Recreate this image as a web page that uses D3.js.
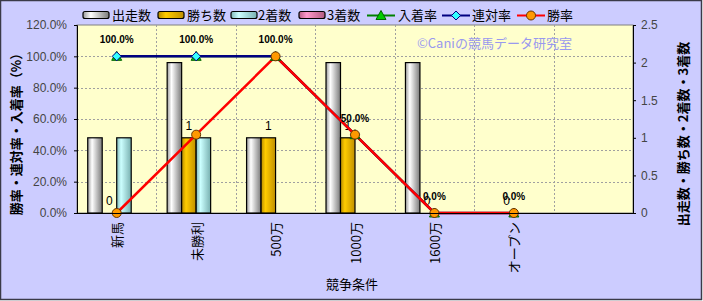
<!DOCTYPE html>
<html><head><meta charset="utf-8">
<script src="https://cdn.jsdelivr.net/npm/d3@7"></script>
<style>
html,body{margin:0;padding:0;background:#fff;}
svg{display:block;}
text{font-family:"Liberation Sans","Noto Sans CJK JP",sans-serif;}
.jp{font-family:"Noto Sans CJK JP","Liberation Sans",sans-serif;}
</style></head>
<body>
<svg id="c" width="703" height="301"></svg>
<script>
const categories = ["新馬","未勝利","500万","1000万","1600万","オープン",""];
const starts   = [1,2,1,2,2,0,null];
const wins     = [0,1,1,1,0,0,null];
const seconds  = [1,1,0,0,0,0,null];
const thirds   = [0,0,0,0,0,0,null];
const placeRate  = [100,100,100,50,0,0,null];
const rentaiRate = [100,100,100,50,0,0,null];
const winRate    = [0,50,100,50,0,0,null];
const leftTicks = [0,20,40,60,80,100,120];
const rightTicks = [0,0.5,1,1.5,2,2.5];
const barSeries = [
  {name:"出走数", values:starts, grad:"gW"},
  {name:"勝ち数", values:wins, grad:"gY"},
  {name:"2着数", values:seconds, grad:"gC"},
  {name:"3着数", values:thirds, grad:"gP"}
];
const lineSeries = [
  {name:"入着率", values:placeRate, color:"#008000", w:2, marker:"tri"},
  {name:"連対率", values:rentaiRate, color:"#000080", w:2.5, marker:"dia"},
  {name:"勝率", values:winRate, color:"#ff0000", w:2.5, marker:"cir"}
];

const svg = d3.select("#c");
const L=77, R=633, T=25, B=213;

const defs = svg.append("defs");
function grad(id, edgeL, mid, edgeR){
  const g = defs.append("linearGradient").attr("id",id).attr("x1","0").attr("x2","1").attr("y1","0").attr("y2","0");
  g.append("stop").attr("offset","0").attr("stop-color",edgeL);
  g.append("stop").attr("offset","0.3").attr("stop-color",mid);
  g.append("stop").attr("offset","1").attr("stop-color",edgeR);
}
grad("gW","#9a9a9a","#ffffff","#7a7a7a");
grad("gY","#b58a00","#ffcc00","#c08f00");
grad("gC","#80b8b8","#ccffff","#78b0b0");
grad("gP","#b86088","#ff99cc","#b05a80");

svg.append("rect").attr("x",0.5).attr("y",0.5).attr("width",701).attr("height",299)
  .attr("fill","#ccccff").attr("stroke","#3a3a48").attr("stroke-width",1.5);
svg.append("rect").attr("x",L).attr("y",T).attr("width",R-L).attr("height",B-T)
  .attr("fill","#ffffcc").attr("stroke","#808080").attr("stroke-width",1);

const x0 = d3.scaleBand().domain(categories.map((d,i)=>i)).range([L,R]).padding(0);
const bw = x0.bandwidth();
const x1 = d3.scaleBand().domain(barSeries.map(d=>d.name)).range([bw*0.135, bw*0.865]).padding(0);
const yL = d3.scaleLinear().domain([0,120]).range([B,T]);
const yR = d3.scaleLinear().domain([0,2.5]).range([B,T]);

const grid = svg.append("g");
leftTicks.filter(t=>t>0 && t<120).forEach(t=>{
  grid.append("line").attr("x1",L).attr("x2",R).attr("y1",Math.round(yL(t))+0.5).attr("y2",Math.round(yL(t))+0.5)
    .attr("stroke","#a0a0a0").attr("stroke-dasharray","2,2").attr("stroke-width",1);
});
categories.forEach((c,i)=>{
  if(i===0) return;
  const xx = Math.round(x0(i))+0.5;
  grid.append("line").attr("x1",xx).attr("x2",xx).attr("y1",T).attr("y2",B)
    .attr("stroke","#a0a0a0").attr("stroke-dasharray","2,2").attr("stroke-width",1);
});

svg.append("text").attr("class","jp").attr("x",417).attr("y",48).attr("font-size",13)
  .attr("fill","#9999ee").text("©Caniの競馬データ研究室");

const bars = svg.append("g");
barSeries.forEach(s=>{
  s.values.forEach((v,i)=>{
    if(v==null || v===0) return;
    const xx = x0(i)+x1(s.name);
    bars.append("rect").attr("x",xx).attr("y",yR(v)).attr("width",x1.bandwidth()).attr("height",B-yR(v))
      .attr("fill",`url(#${s.grad})`).attr("stroke","#000").attr("stroke-width",1.2);
  });
});
wins.forEach((v,i)=>{
  if(v==null) return;
  svg.append("text").attr("x",x0(i)+x1("勝ち数")+x1.bandwidth()/2).attr("y",yR(v)-8)
    .attr("text-anchor","middle").attr("font-size",12).attr("fill","#000").text(v);
});

const cx = i => x0(i)+bw/2;
lineSeries.forEach(s=>{
  const line = d3.line().defined(d=>d!=null).x((d,i)=>cx(i)).y(d=>yL(d));
  svg.append("path").datum(s.values).attr("d",line).attr("fill","none")
    .attr("stroke",s.color).attr("stroke-width",s.w);
});
function marker(g, type, x, y){
  if(type==="tri"){
    g.append("path").attr("d",`M${x},${y-5}L${x+5},${y+4}L${x-5},${y+4}Z`).attr("fill","#00cc00").attr("stroke","#006600").attr("stroke-width",1);
  } else if(type==="dia"){
    g.append("path").attr("d",`M${x},${y-4.5}L${x+4.5},${y}L${x},${y+4.5}L${x-4.5},${y}Z`).attr("fill","#33ffff").attr("stroke","#000080").attr("stroke-width",1);
  } else {
    g.append("circle").attr("cx",x).attr("cy",y).attr("r",4.5).attr("fill","#ff9900").attr("stroke","#663300").attr("stroke-width",1);
  }
}
const mk = svg.append("g");
lineSeries.forEach(s=>{
  s.values.forEach((v,i)=>{ if(v!=null) marker(mk, s.marker, cx(i), yL(v)); });
});
placeRate.forEach((v,i)=>{
  if(v==null) return;
  svg.append("text").attr("x",cx(i)).attr("y",yL(v)-13).attr("text-anchor","middle")
    .attr("font-size",10).attr("font-weight","bold").attr("fill","#000").text(v.toFixed(1)+"%");
});

const axL = svg.append("g").attr("transform",`translate(${L},0)`)
  .call(d3.axisLeft(yL).tickValues(leftTicks).tickSize(3).tickFormat(d=>d.toFixed(1)+"%"));
const axR = svg.append("g").attr("transform",`translate(${R},0)`)
  .call(d3.axisRight(yR).tickValues(rightTicks).tickSize(3).tickFormat(d=>String(d)));
[axL,axR].forEach(a=>{
  a.select(".domain").attr("stroke","#000");
  a.selectAll(".tick line").attr("stroke","#000");
  a.selectAll("text").attr("font-size",12).attr("fill","#444").attr("font-family","Liberation Sans, sans-serif");
});
axL.selectAll("text").attr("x",-10);
axR.selectAll("text").attr("x",8);
svg.append("line").attr("x1",L).attr("x2",R).attr("y1",B+0.5).attr("y2",B+0.5).attr("stroke","#000");

categories.forEach((c,i)=>{
  if(!c) return;
  svg.append("text").attr("class","jp").attr("transform",`translate(${cx(i)},222) rotate(-90)`)
    .attr("text-anchor","end").attr("dominant-baseline","central").attr("font-size",13).attr("fill","#000").text(c);
});

svg.append("text").attr("class","jp").attr("transform","translate(15,131) rotate(-90)")
  .attr("text-anchor","middle").attr("dominant-baseline","central").attr("font-size",13).attr("font-weight","bold").attr("fill","#000").text("勝率・連対率・入着率（%）");
svg.append("text").attr("class","jp").attr("transform","translate(682,134) rotate(-90)")
  .attr("text-anchor","middle").attr("dominant-baseline","central").attr("font-size",13).attr("font-weight","bold").attr("fill","#000").text("出走数・勝ち数・2着数・3着数");
svg.append("text").attr("class","jp").attr("x",352).attr("y",289).attr("text-anchor","middle")
  .attr("font-size",13).attr("fill","#000").text("競争条件");

const lg = svg.append("g");
const barLeg = [[83,112],[158,187],[231,258],[299,327]];
barSeries.forEach((s,k)=>{
  const [sx,tx]=barLeg[k];
  lg.append("rect").attr("x",sx).attr("y",11.5).attr("width",26).attr("height",7).attr("rx",2)
    .attr("fill",`url(#${s.grad})`).attr("stroke","#000").attr("stroke-width",1.2);
  lg.append("text").attr("class","jp").attr("x",tx).attr("y",20).attr("font-size",13).attr("fill","#000").text(s.name);
});
const lineLeg = [[367,398],[442,472],[517,547]];
lineSeries.forEach((s,k)=>{
  const [sx,tx]=lineLeg[k];
  lg.append("line").attr("x1",sx).attr("x2",sx+28).attr("y1",15.5).attr("y2",15.5).attr("stroke",s.color).attr("stroke-width",2);
  marker(lg, s.marker, sx+14, 15.5);
  lg.append("text").attr("class","jp").attr("x",tx).attr("y",20).attr("font-size",13).attr("fill","#000").text(s.name);
});
</script>
</body></html>
